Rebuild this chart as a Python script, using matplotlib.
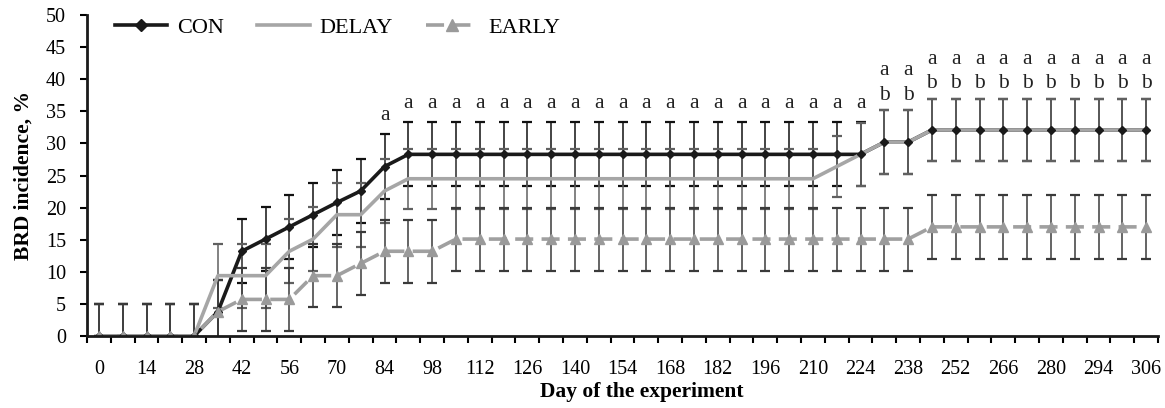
import numpy as np
import matplotlib
matplotlib.use('Agg')
import matplotlib.pyplot as plt
from matplotlib.lines import Line2D

plt.rcParams['font.family'] = ['Liberation Serif', 'DejaVu Serif']

# Категории оси X (дни эксперимента)
days = [0, 7, 14, 21, 28, 35, 42, 49, 56, 63, 70, 77, 84, 91, 98, 105, 112, 119,
        126, 133, 140, 147, 154, 161, 168, 175, 182, 189, 196, 203, 210, 217, 224,
        231, 238, 245, 252, 259, 266, 273, 280, 287, 294, 300, 306]

con = [0, 0, 0, 0, 0, 3.8, 13.2, 15.1, 17.0, 18.9, 20.8, 22.6, 26.4,
       28.3, 28.3, 28.3, 28.3, 28.3, 28.3, 28.3, 28.3, 28.3, 28.3,
       28.3, 28.3, 28.3, 28.3, 28.3, 28.3, 28.3, 28.3, 28.3, 28.3,
       30.2, 30.2,
       32.1, 32.1, 32.1, 32.1, 32.1, 32.1, 32.1, 32.1, 32.1, 32.1]
delay = [0, 0, 0, 0, 0, 9.4, 9.4, 9.4, 13.2, 15.1, 18.9, 18.9, 22.6,
         24.5, 24.5, 24.5, 24.5, 24.5, 24.5, 24.5, 24.5, 24.5, 24.5,
         24.5, 24.5, 24.5, 24.5, 24.5, 24.5, 24.5, 24.5, 26.4, 28.3,
         30.2, 30.2,
         32.1, 32.1, 32.1, 32.1, 32.1, 32.1, 32.1, 32.1, 32.1, 32.1]
early = [0, 0, 0, 0, 0, 3.8, 5.7, 5.7, 5.7, 9.4, 9.4, 11.3, 13.2,
         13.2, 13.2, 15.1, 15.1, 15.1, 15.1, 15.1, 15.1, 15.1, 15.1,
         15.1, 15.1, 15.1, 15.1, 15.1, 15.1, 15.1, 15.1, 15.1, 15.1,
         15.1, 15.1,
         17.0, 17.0, 17.0, 17.0, 17.0, 17.0, 17.0, 17.0, 17.0, 17.0]

con_err = [5.0, 5.0, 5.0, 5.0, 5.0, 5.0, 5.0, 5.0, 5.0, 5.0, 5.0, 5.0, 5.0,
           5.0, 5.0, 5.0, 5.0, 5.0, 5.0, 5.0, 5.0, 5.0, 5.0,
           5.0, 5.0, 5.0, 5.0, 5.0, 5.0, 5.0, 5.0, 5.0, 5.0,
           5.0, 5.0,
           4.9, 4.9, 4.9, 4.9, 4.9, 4.9, 4.9, 4.9, 4.9, 4.9]
delay_err = [5.0, 5.0, 5.0, 5.0, 5.0, 5.0, 5.0, 5.0, 5.0, 5.0, 5.0, 5.0, 5.0,
             4.7, 4.7, 4.7, 4.7, 4.7, 4.7, 4.7, 4.7, 4.7, 4.7,
             4.7, 4.7, 4.7, 4.7, 4.7, 4.7, 4.7, 4.7, 4.8, 4.9,
             5.0, 5.0,
             4.9, 4.9, 4.9, 4.9, 4.9, 4.9, 4.9, 4.9, 4.9, 4.9]
early_err = [5.0, 5.0, 5.0, 5.0, 5.0, 4.9, 4.9, 4.9, 4.9, 4.9, 4.9, 4.9, 4.9,
             4.9, 4.9, 4.9, 4.9, 4.9, 4.9, 4.9, 4.9, 4.9, 4.9,
             4.9, 4.9, 4.9, 4.9, 4.9, 4.9, 4.9, 4.9, 4.9, 4.9,
             4.9, 4.9,
             5.0, 5.0, 5.0, 5.0, 5.0, 5.0, 5.0, 5.0, 5.0, 5.0]

# Буквы значимости над точками
sig_top = [''] * 12 + ['a'] * 21 + ['a'] * 12
sig_bottom = [''] * 33 + ['b'] * 12


def draw_chart():
    fig = plt.figure(figsize=(11.65, 4.08), dpi=100)
    ax = fig.add_axes([0.0747, 0.1765, 0.9193, 0.7865])

    x = np.arange(len(days))
    series = [
        (con, con_err, '#1a1a1a', '-', 'D', '#1a1a1a', 4, 'CON', '#111111'),
        (delay, delay_err, '#a6a6a6', '-', None, '#a6a6a6', 0, 'DELAY', '#606060'),
        (early, early_err, '#a0a0a0', (0, (5, 2.3)), '^', '#9a9a9a', 6.5, 'EARLY', '#3a3a3a'),
    ]

    # Планки погрешностей
    for vals, err, col, ls, mk, mcol, ms, name, ecol in series:
        v = np.array(vals)
        e = np.array(err)
        lower = np.where(v == 0, 0, e)
        ax.errorbar(x, v, yerr=[lower, e], fmt='none', ecolor=ecol,
                    elinewidth=1.1, capsize=3.7, capthick=1.6, zorder=2)

    # Линии
    for vals, err, col, ls, mk, mcol, ms, name, ecol in series:
        ax.plot(x, vals, color=col, linestyle=ls, linewidth=2.6,
                zorder=3, solid_capstyle='butt')

    # Маркеры поверх линий
    for vals, err, col, ls, mk, mcol, ms, name, ecol in series:
        if mk:
            ax.plot(x, vals, linestyle='none', marker=mk, markersize=ms,
                    color=mcol, zorder=4)

    # Буквы
    tops = np.max([np.array(con) + np.array(con_err),
                   np.array(delay) + np.array(delay_err),
                   np.array(early) + np.array(early_err)], axis=0)
    for i in range(len(days)):
        if sig_bottom[i]:
            ax.text(x[i], tops[i] + 1.6, sig_bottom[i], ha='center', va='baseline',
                    fontsize=15.5, color='#222222')
            ax.text(x[i], tops[i] + 5.4, sig_top[i], ha='center', va='baseline',
                    fontsize=15.5, color='#222222')
        elif sig_top[i]:
            ax.text(x[i], tops[i] + 2.3, sig_top[i], ha='center', va='baseline',
                    fontsize=15.5, color='#222222')

    ax.set_xlim(-0.5, len(days) - 0.5)
    ax.set_ylim(0, 50)
    ax.set_yticks(np.arange(0, 51, 5))
    ax.set_xticks(x[::2])
    ax.set_xticklabels([str(d) for d in days[::2]])
    ax.set_xticks(np.arange(-0.5, len(days), 1), minor=True)
    ax.tick_params(axis='x', which='major', length=0, pad=17, labelsize=14.5)
    ax.tick_params(axis='x', which='minor', length=5, width=1.5, direction='out')
    ax.tick_params(axis='y', length=5, width=1.5, direction='out', labelsize=14.5, pad=10)

    for s in ['top', 'right']:
        ax.spines[s].set_visible(False)
    for s in ['left', 'bottom']:
        ax.spines[s].set_linewidth(2)
        ax.spines[s].set_color('#1a1a1a')
        ax.spines[s].set_zorder(5)

    ax.set_xlabel('Day of the experiment', fontsize=15.5, fontweight='bold')
    ax.xaxis.set_label_coords(0.518, -0.143)
    ax.set_ylabel('BRD incidence, %', fontsize=15.5, fontweight='bold', labelpad=9)

    handles = [
        Line2D([], [], color='#1a1a1a', lw=2.6, marker='D', markersize=6),
        Line2D([], [], color='#a6a6a6', lw=2.6),
        Line2D([], [], color='#a0a0a0', lw=2.6, linestyle=(0, (5, 2.3)),
               marker='^', markersize=9, markerfacecolor='#9a9a9a', markeredgecolor='#9a9a9a'),
    ]
    ax.legend(handles, ['CON', 'DELAY', 'EARLY'], loc='center left',
              bbox_to_anchor=(0.026, 0.96), ncol=3, frameon=False, fontsize=16,
              handlelength=2.35, handletextpad=0.45, columnspacing=1.5,
              borderaxespad=0, borderpad=0)

    fig.savefig('out.png', dpi=100)
    plt.close(fig)


draw_chart()
